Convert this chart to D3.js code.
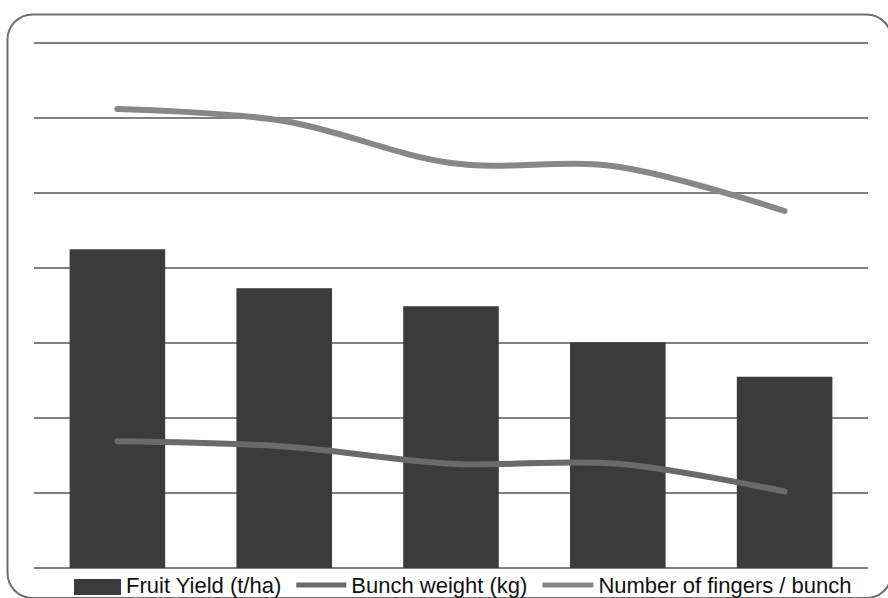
<!DOCTYPE html>
<html>
<head>
<meta charset="utf-8">
<script src="https://cdn.jsdelivr.net/npm/d3@7"></script>
<style>
  html, body { margin: 0; padding: 0; background: #ffffff; overflow: hidden; }
  svg { display: block; }
</style>
</head>
<body>
<svg id="chart" width="888" height="598"></svg>
<script>
// Treatments along the x axis
const categories = ["T1", "T2", "T3", "T4", "T5"];
// Series values
const fruitYield = [42.5, 37.3, 34.9, 30.1, 25.5];     // t/ha (bars)
const bunchWeight = [16.9, 16.2, 13.9, 13.9, 10.2];    // kg (line)
const fingersPerBunch = [61.2, 59.6, 54.0, 53.5, 47.6]; // count (line)
// Gridline values
const yTicks = [0, 10, 20, 30, 40, 50, 60, 70];
const legendLabels = ["Fruit Yield (t/ha)", "Bunch weight (kg)", "Number of fingers / bunch"];

const svg = d3.select("#chart");
const plot = { left: 34, right: 868, top: 43, bottom: 568 };

const barColor = "#3b3b3b";
const weightColor = "#6a6a6a";
const fingerColor = "#878787";
const gridColor = "#808080";

// Rounded outer frame
svg.append("rect")
  .attr("x", 7.5).attr("y", 14.5)
  .attr("width", 884).attr("height", 583.5)
  .attr("rx", 25).attr("ry", 25)
  .attr("fill", "#ffffff")
  .attr("stroke", "#6e6e6e")
  .attr("stroke-width", 2);

const x = d3.scaleBand()
  .domain(categories)
  .range([plot.left, plot.right])
  .paddingInner(0.427)
  .paddingOuter(0.2135);

const y = d3.scaleLinear()
  .domain([0, 70])
  .range([plot.bottom, plot.top]);

// Horizontal gridlines
svg.append("g")
  .selectAll("line")
  .data(yTicks)
  .join("line")
  .attr("x1", plot.left).attr("x2", plot.right)
  .attr("y1", d => y(d)).attr("y2", d => y(d))
  .attr("stroke", gridColor)
  .attr("stroke-width", 2);

// Fruit yield bars
svg.append("g")
  .selectAll("rect")
  .data(categories)
  .join("rect")
  .attr("x", d => x(d))
  .attr("width", x.bandwidth())
  .attr("y", (d, i) => y(fruitYield[i]))
  .attr("height", (d, i) => y(0) - y(fruitYield[i]))
  .attr("fill", barColor);

// Smoothed series lines
const line = d3.line()
  .x((d, i) => x(categories[i]) + x.bandwidth() / 2)
  .y(d => y(d))
  .curve(d3.curveCatmullRom.alpha(0));

svg.append("path")
  .datum(bunchWeight)
  .attr("d", line)
  .attr("fill", "none")
  .attr("stroke", weightColor)
  .attr("stroke-width", 6)
  .attr("stroke-linecap", "round")
  .attr("stroke-linejoin", "round");

svg.append("path")
  .datum(fingersPerBunch)
  .attr("d", line)
  .attr("fill", "none")
  .attr("stroke", fingerColor)
  .attr("stroke-width", 6)
  .attr("stroke-linecap", "round")
  .attr("stroke-linejoin", "round");

// Legend along the bottom edge
const legend = svg.append("g").attr("font-family", "'Liberation Sans', Arial, sans-serif")
  .attr("font-size", 22).attr("fill", "#111111");
const swatchW = [47, 50, 51];
const itemGap = 15;
const textGap = 5;
const baseline = 593;
let cx = 74;
legendLabels.forEach((label, i) => {
  if (i === 0) {
    legend.append("rect")
      .attr("x", cx).attr("y", baseline - 14)
      .attr("width", swatchW[i]).attr("height", 16)
      .attr("fill", barColor);
  } else {
    legend.append("line")
      .attr("x1", cx).attr("x2", cx + swatchW[i])
      .attr("y1", baseline - 8).attr("y2", baseline - 8)
      .attr("stroke", i === 1 ? weightColor : fingerColor)
      .attr("stroke-width", 5);
  }
  const t = legend.append("text")
    .attr("x", cx + swatchW[i] + textGap)
    .attr("y", baseline)
    .text(label);
  cx += swatchW[i] + textGap + t.node().getComputedTextLength() + itemGap;
});
</script>
</body>
</html>
